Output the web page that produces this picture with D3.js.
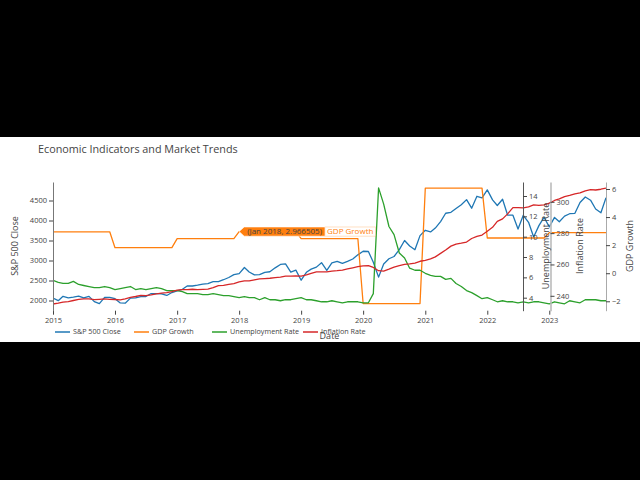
<!DOCTYPE html>
<html><head><meta charset="utf-8">
<script src="https://cdn.jsdelivr.net/npm/d3@7"></script>
<style>
body{margin:0;background:#000;}
svg text{font-family:"Open Sans",verdana,arial,sans-serif;}
</style>
</head><body>
<svg id="c" width="640" height="480"></svg>
<script>
// ---------------- DATA ----------------
const years = [2015, 2016, 2017, 2018, 2019, 2020, 2021, 2022, 2023];
const gdpGrowth = [2.95, 1.82, 2.46, 2.966505, 2.47, -2.16, 6.06, 2.51, 2.89];
const sp500Close = [
  2058.90,1994.99,2104.50,2067.89,2085.51,2107.39,2063.11,2103.84,1972.18,1920.03,2079.36,2080.41,
  2043.94,1940.24,1932.23,2059.74,2065.30,2096.95,2098.86,2173.60,2170.95,2168.27,2126.15,2198.81,
  2238.83,2278.87,2363.64,2362.72,2384.20,2411.80,2423.41,2470.30,2471.65,2519.36,2575.26,2647.58,
  2673.61,2823.81,2713.83,2640.87,2648.05,2705.27,2718.37,2816.29,2901.52,2913.98,2711.74,2760.17,
  2506.85,2704.10,2784.49,2834.40,2945.83,2752.06,2941.76,2980.38,2926.46,2976.74,3037.56,3140.98,
  3230.78,3225.52,2954.22,2584.59,2912.43,3044.31,3100.29,3271.12,3500.31,3363.00,3269.96,3621.63,
  3756.07,3714.24,3811.15,3972.89,4181.17,4204.11,4297.50,4395.26,4522.68,4307.54,4605.38,4567.00,
  4766.18,4515.55,4373.94,4530.41,4131.93,4132.15,3785.38,4130.29,3955.00,3585.62,3871.98,4080.11,
  3839.50,4076.60,3970.15,4109.31,4169.48,4179.83,4450.38,4588.96,4507.66,4288.05,4193.80,4567.80
];
const unemploymentRate = [
  5.7,5.5,5.4,5.4,5.6,5.3,5.2,5.1,5.0,5.0,5.1,5.0,
  4.8,4.9,5.0,5.1,4.8,4.9,4.8,4.9,5.0,4.9,4.7,4.7,
  4.7,4.6,4.4,4.4,4.4,4.3,4.3,4.4,4.3,4.2,4.2,4.1,
  4.0,4.1,4.0,4.0,3.8,4.0,3.8,3.8,3.7,3.8,3.8,3.9,
  4.0,3.8,3.8,3.7,3.6,3.6,3.7,3.6,3.5,3.6,3.6,3.6,
  3.5,3.5,4.4,14.8,13.2,11.0,10.2,8.4,7.9,6.9,6.7,6.7,
  6.4,6.2,6.1,6.1,5.8,5.9,5.4,5.1,4.7,4.5,4.2,3.9,
  4.0,3.8,3.6,3.7,3.6,3.6,3.5,3.6,3.5,3.6,3.6,3.5,
  3.4,3.6,3.5,3.4,3.7,3.6,3.5,3.8,3.8,3.8,3.7,3.7
];
const inflationRate = [
  234.747,235.342,235.976,236.222,237.001,237.657,238.034,238.033,237.498,237.733,238.017,237.761,
  237.652,237.336,238.080,238.992,239.557,240.222,240.101,240.545,241.176,241.741,242.026,242.637,
  243.618,244.006,243.892,244.193,244.004,244.163,244.243,245.183,246.435,246.626,247.284,247.805,
  248.859,249.529,249.577,250.227,250.792,251.018,251.214,251.663,251.963,252.582,252.594,252.767,
  252.561,253.319,254.277,255.233,255.296,255.213,255.802,256.036,256.430,257.155,257.879,258.630,
  259.127,259.250,258.076,256.032,255.802,257.042,258.352,259.316,259.997,260.319,260.911,262.045,
  262.639,263.573,264.847,267.054,269.195,271.696,273.003,273.567,274.310,276.589,277.948,278.802,
  281.148,283.716,287.504,289.109,292.296,296.311,296.276,296.171,296.808,298.012,297.711,298.062,
  299.170,300.840,301.836,303.363,304.127,305.109,305.691,307.026,307.789,307.531,308.024,308.742
];
const xTickLabels = ["2015","2016","2017","2018","2019","2020","2021","2022","2023"];
const spTicks = [2000, 2500, 3000, 3500, 4000, 4500];
const unempTicks = [4, 6, 8, 10, 12, 14];
const inflTicks = [240, 260, 280, 300];
const gdpTicks = [-2, 0, 2, 4, 6];
const seriesNames = ["S&P 500 Close", "GDP Growth", "Unemployment Rate", "Inflation Rate"];
const seriesColors = ["#1f77b4", "#ff7f0e", "#2ca02c", "#d62728"];
const hoverText = "(Jan 2018, 2.966505)";

// ---------------- BUILD ----------------
const months = d3.timeMonth.range(new Date(2015, 0, 1), new Date(2024, 0, 1));
const gdpMonthly = months.map(d => gdpGrowth[years.indexOf(d.getFullYear())]);

const svg = d3.select("#c");
svg.append("rect").attr("x",0).attr("y",0).attr("width",640).attr("height",480).attr("fill","#000");
svg.append("rect").attr("x",0).attr("y",137).attr("width",640).attr("height",205).attr("fill","#fff");

const L = 53, R = 606, T = 182, B = 310.7;
const x = d3.scaleTime().domain([months[0], months[months.length-1]]).range([L, R]);
const ySP = d3.scaleLinear().domain([1745, 4962.5]).range([B, T]);
const yUn = d3.scaleLinear().domain([2.722, 15.377]).range([B, T]);
const yIn = d3.scaleLinear().domain([230.49, 312.64]).range([B, T]);
const yGd = d3.scaleLinear().domain([-2.67, 6.4987]).range([B, T]);

const txt = "#444";
const fmt = d3.format("d");
function styleAxis(g, lineColor, lineW) {
  g.selectAll("text").attr("fill", txt).style("font-size", "7.5px");
  g.selectAll(".tick line").attr("stroke", "#444");
  g.select(".domain").attr("stroke", lineColor).attr("stroke-width", lineW);
}

// x axis
const gx = svg.append("g").attr("transform", `translate(0,${B})`)
  .call(d3.axisBottom(x).tickValues(years.map(yv => new Date(yv,0,1)))
    .tickFormat((d,i) => xTickLabels[i]).tickSize(4).tickPadding(3).tickSizeOuter(0));
styleAxis(gx, "none", 0);
gx.select(".domain").remove();

// data lines
svg.append("clipPath").attr("id","pc").append("rect")
  .attr("x", L).attr("y", T).attr("width", R-L).attr("height", B-T);
const plot = svg.append("g").attr("clip-path","url(#pc)");
const series = [
  {vals: sp500Close, y: ySP},
  {vals: gdpMonthly, y: yGd},
  {vals: unemploymentRate, y: yUn},
  {vals: inflationRate, y: yIn}
];
series.forEach((s, i) => {
  plot.append("path")
    .datum(months.map((d, k) => [d, s.vals[k]]))
    .attr("fill","none").attr("stroke", seriesColors[i]).attr("stroke-width",1.3)
    .attr("stroke-linejoin","round")
    .attr("d", d3.line().x(d => x(d[0])).y(d => s.y(d[1])));
});

// left axis
const gl = svg.append("g").attr("transform", `translate(${L},0)`)
  .call(d3.axisLeft(ySP).tickValues(spTicks).tickFormat(fmt).tickSize(4).tickPadding(2).tickSizeOuter(0));
styleAxis(gl, "#777", 1);
// unemployment axis
const gu = svg.append("g").attr("transform", `translate(523,0)`)
  .call(d3.axisRight(yUn).tickValues(unempTicks).tickFormat(fmt).tickSize(4).tickPadding(2).tickSizeOuter(0));
styleAxis(gu, "#555", 1);
// inflation axis
const gi = svg.append("g").attr("transform", `translate(550.5,0)`)
  .call(d3.axisRight(yIn).tickValues(inflTicks).tickFormat(fmt).tickSize(4).tickPadding(2).tickSizeOuter(0));
styleAxis(gi, "#bbb", 1.6);
// gdp axis
const gg = svg.append("g").attr("transform", `translate(${R},0)`)
  .call(d3.axisRight(yGd).tickValues(gdpTicks).tickFormat(d => d < 0 ? "\u2212" + Math.abs(d) : fmt(d))
    .tickSize(4).tickPadding(2).tickSizeOuter(0));
styleAxis(gg, "#aaa", 1);

// axis titles
function vtitle(xp, t) {
  svg.append("text").attr("transform", `translate(${xp},246) rotate(-90)`)
    .attr("text-anchor","middle").attr("dominant-baseline","middle")
    .attr("fill", txt).style("font-size","9px").text(t);
}
vtitle(16, "S&P 500 Close");
vtitle(547, "Unemployment Rate");
vtitle(581, "Inflation Rate");
vtitle(631, "GDP Growth");

// title
svg.append("text").attr("x",38).attr("y",153).attr("fill",txt)
  .style("font-size","10.8px").text("Economic Indicators and Market Trends");

// legend
const legX = [55, 134, 212, 303];
seriesNames.forEach((n, i) => {
  svg.append("line").attr("x1", legX[i]).attr("x2", legX[i]+15).attr("y1",332).attr("y2",332)
    .attr("stroke", seriesColors[i]).attr("stroke-width",1.5);
  svg.append("text").attr("x", legX[i]+18).attr("y",332).attr("dominant-baseline","middle")
    .attr("fill",txt).style("font-size","7.2px").text(n);
});
// x axis title
svg.append("text").attr("x",(L+R)/2).attr("y",336.5).attr("text-anchor","middle")
  .attr("dominant-baseline","middle").attr("fill",txt).style("font-size","9px").text("Date");

// hover label
const hx = x(new Date(2018,0,1)), hy = yGd(gdpGrowth[3]);
const hg = svg.append("g");
const ht = hg.append("text").attr("x", hx+8).attr("y", hy).attr("dominant-baseline","middle")
  .attr("fill","#444").style("font-size","8px").text(hoverText);
const tw = ht.node().getComputedTextLength();
const bx0 = hx + 5, bx1 = hx + 8 + tw + 3, by0 = hy - 4.6, by1 = hy + 4.6;
const nt = hg.append("text").attr("x", bx1 + 2).attr("y", hy).attr("dominant-baseline","middle")
  .attr("fill","#ff7f0e").style("font-size","8px").text(seriesNames[1]);
const nw = nt.node().getComputedTextLength();
hg.insert("rect", "text").attr("x", bx1).attr("y", by0).attr("width", nw+4).attr("height", by1-by0)
  .attr("fill","#fff").attr("stroke","#ff7f0e").attr("stroke-opacity",0.3).attr("stroke-width",0.8);
hg.insert("path", "text").attr("d",
  `M${hx},${hy} L${bx0},${by0} L${bx1},${by0} L${bx1},${by1} L${bx0},${by1} Z`)
  .attr("fill","#ff7f0e").attr("stroke","#fff").attr("stroke-width",0.6);
</script>
</body></html>
